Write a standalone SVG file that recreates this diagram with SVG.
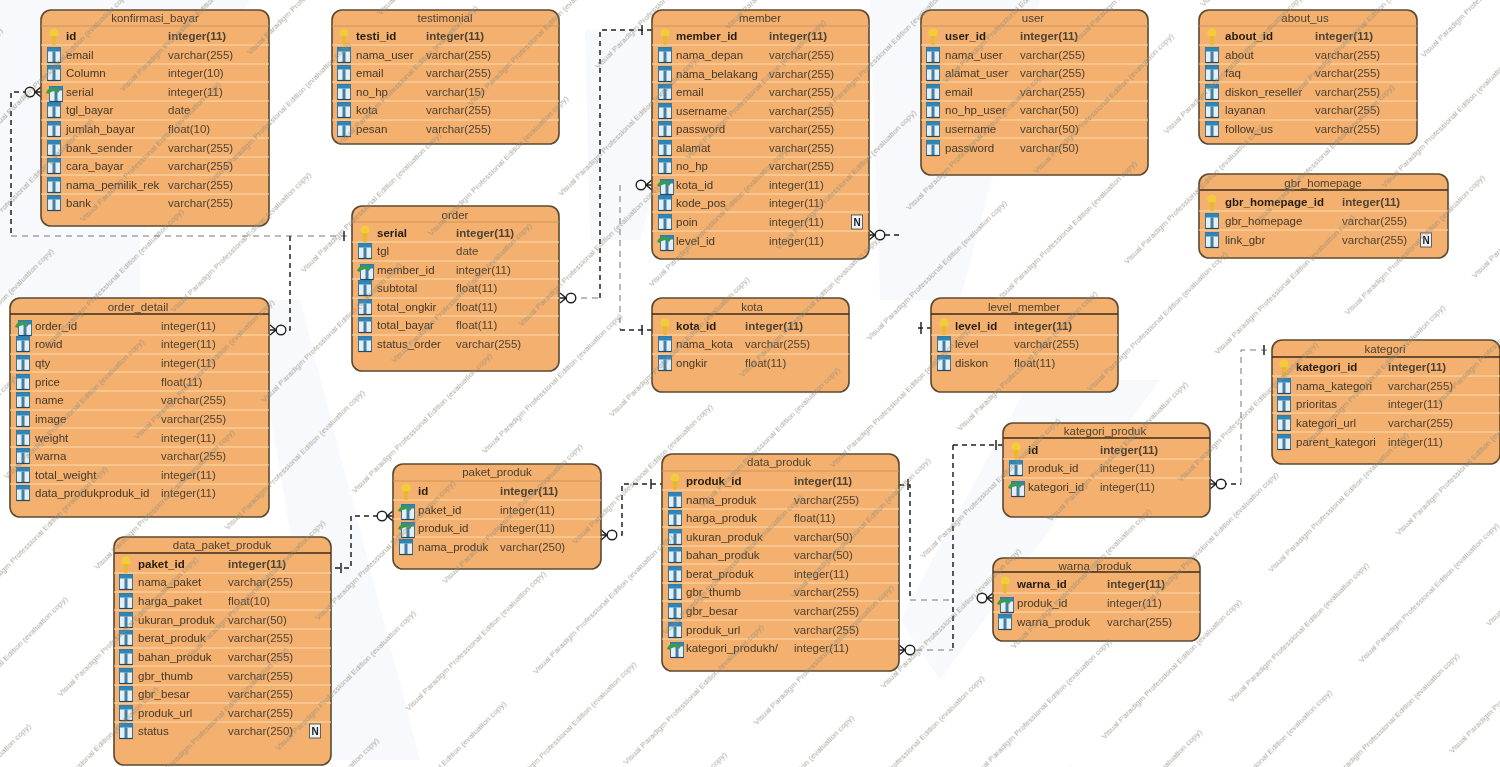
<svg xmlns="http://www.w3.org/2000/svg" width="1500" height="767" viewBox="0 0 1500 767">
<style>
text{font-family:"Liberation Sans",Arial,sans-serif;font-size:11.5px;fill:#42382b}
.ti{text-anchor:middle;fill:#4a3f30}
.pk{font-weight:bold;fill:#251e12}
.ty{fill:#4d4335}
.box{fill:#f4b06e;stroke:#5b4930;stroke-width:1.6}
.sep{fill:none;stroke:#fbdcae;stroke-width:1}
.hd{fill:none;stroke:#3d2d18;stroke-width:1.5}
.hl{fill:none;stroke:#cf9458;stroke-width:1}
.cn{fill:none;stroke:#222;stroke-width:1.5;stroke-dasharray:5 4}
.cf{fill:none;stroke:#777;stroke-width:1;stroke-dasharray:6 5}
.end{fill:none;stroke:#222;stroke-width:1.5}
.wm{font-size:8px;fill:#8f8b7c}
</style>
<defs>
<filter id="soft" x="0" y="0" width="100%" height="100%"><feGaussianBlur stdDeviation="0.45"/></filter>
<g id="k"><circle cx="0" cy="-3" r="4.6" fill="#f3cc3a"/><path d="M-2.4 0h4.8l-1 9h-2.8z" fill="#e8b92a"/></g>
<g id="c"><rect x="-6.5" y="-7.5" width="13" height="15" fill="#e6f0f4" stroke="#3f6f92" stroke-width="1"/><rect x="-6.5" y="-7.5" width="13" height="4" fill="#2f86b8"/><rect x="-1.5" y="-3.5" width="3" height="11" fill="#3f7fa6"/><path d="M-6.5 7.5h13" stroke="#26475f" stroke-width="1.2"/></g>
<g id="f"><use href="#c" x="2" y="2"/><path d="M-8 1a8 7 0 0 1 14 -3l-2 3a5 4 0 0 0 -9 1z" fill="#3b9a4d"/></g>
<g id="n"><rect x="-5.5" y="-7" width="11" height="14" fill="#eef3f6" stroke="#444" stroke-width="0.8"/><text x="0" y="4" text-anchor="middle" style="font-size:10px;font-weight:bold;fill:#222">N</text></g>
<g id="cw"><path class="end" d="M0 -5L6 0L0 5M0 0H6"/><circle cx="11" cy="0" r="4.8" fill="#fff" stroke="#222" stroke-width="1.4"/></g>
<pattern id="wmp" width="236" height="128" patternUnits="userSpaceOnUse" patternTransform="rotate(-45) translate(20 0)">
<text class="wm" x="2" y="24">Visual Paradigm Professional Edition (evaluation copy)</text>
<text class="wm" x="118" y="88">Visual Paradigm Professional Edition (evaluation copy)</text>
<text class="wm" x="-118" y="88">Visual Paradigm Professional Edition (evaluation copy)</text>
</pattern>
</defs>
<rect width="1500" height="767" fill="#fff"/>
<g filter="url(#soft)">
<g fill="#f8f9fc">
<path d="M0 0H250L140 240V300H0z"/>
<path d="M250 300L330 760H420L300 300z"/>
<path d="M585 30H700L640 240H590z"/>
<path d="M870 0H1040L960 300H880z"/>
<path d="M1030 380L1160 380L940 680L900 620z"/>
</g>

<g id="connectors">
<path class="cn" d="M28 92H11V236"/>
<path class="cf" d="M11 236H352"/>
<path class="cn" d="M290 236V330H281"/>
<path class="cf" d="M570 298H600"/>
<path class="cn" d="M600 298V30H652"/>
<path class="cf" d="M620 185V330"/>
<path class="cn" d="M620 330H652"/>
<path class="cn" d="M885 235H901"/>
<path class="cn" d="M918 328H931"/>
<path class="cn" d="M387 516H351V568H331"/>
<path class="cn" d="M612 535H622V484H663"/>
<path class="cn" d="M899 485H910V598"/>
<path class="cf" d="M910 600H953"/>
<path class="cn" d="M953 445V650"/>
<path class="cf" d="M916 650H953"/>
<path class="cn" d="M953 445H1003"/>
<path class="cn" d="M1222 484H1241"/>
<path class="cf" d="M1241 484V350H1272"/>
<use href="#cw" transform="translate(41 92) scale(-1 1)"/>
<use href="#cw" transform="translate(270 330)"/>
<use href="#cw" transform="translate(560 298)"/>
<use href="#cw" transform="translate(652 185) scale(-1 1)"/>
<use href="#cw" transform="translate(869 235)"/>
<use href="#cw" transform="translate(393 516) scale(-1 1)"/>
<use href="#cw" transform="translate(601 535)"/>
<use href="#cw" transform="translate(899 650)"/>
<use href="#cw" transform="translate(993 598) scale(-1 1)"/>
<use href="#cw" transform="translate(1210 484)"/>
<path class="end" d="M344 231V241M642 25V35M642 325V335M921 322V334M341 563V573M651 479V489M908 479V490M996 440V450M1264 345V355"/>
</g>

<g id="konfirmasi_bayar">
<rect class="box" x="41" y="10" width="228" height="216" rx="10"/>
<path class="hl" d="M41 26H269"/>
<path class="sep" d="M41 45H269M41 64H269M41 82H269M41 101H269M41 120H269M41 138H269M41 157H269M41 175H269M41 194H269"/>
<text class="ti" x="155" y="22">konfirmasi_bayar</text>
<use href="#k" x="54" y="36"/><text class="pk" x="66" y="40">id</text><text class="ty pk" x="168" y="40">integer(11)</text>
<use href="#c" x="54" y="55"/><text x="66" y="59">email</text><text class="ty" x="168" y="59">varchar(255)</text>
<use href="#c" x="54" y="73"/><text x="66" y="77">Column</text><text class="ty" x="168" y="77">integer(10)</text>
<use href="#f" x="54" y="92"/><text x="66" y="96">serial</text><text class="ty" x="168" y="96">integer(11)</text>
<use href="#c" x="54" y="110"/><text x="66" y="114">tgl_bayar</text><text class="ty" x="168" y="114">date</text>
<use href="#c" x="54" y="129"/><text x="66" y="133">jumlah_bayar</text><text class="ty" x="168" y="133">float(10)</text>
<use href="#c" x="54" y="148"/><text x="66" y="152">bank_sender</text><text class="ty" x="168" y="152">varchar(255)</text>
<use href="#c" x="54" y="166"/><text x="66" y="170">cara_bayar</text><text class="ty" x="168" y="170">varchar(255)</text>
<use href="#c" x="54" y="185"/><text x="66" y="189">nama_pemilik_rek</text><text class="ty" x="168" y="189">varchar(255)</text>
<use href="#c" x="54" y="203"/><text x="66" y="207">bank</text><text class="ty" x="168" y="207">varchar(255)</text>
</g>

<g id="testimonial">
<rect class="box" x="332" y="10" width="227" height="134" rx="10"/>
<path class="hl" d="M332 26H559"/>
<path class="sep" d="M332 45H559M332 64H559M332 82H559M332 101H559M332 120H559"/>
<text class="ti" x="445" y="22">testimonial</text>
<use href="#k" x="344" y="36"/><text class="pk" x="356" y="40">testi_id</text><text class="ty pk" x="426" y="40">integer(11)</text>
<use href="#c" x="344" y="55"/><text x="356" y="59">nama_user</text><text class="ty" x="426" y="59">varchar(255)</text>
<use href="#c" x="344" y="73"/><text x="356" y="77">email</text><text class="ty" x="426" y="77">varchar(255)</text>
<use href="#c" x="344" y="92"/><text x="356" y="96">no_hp</text><text class="ty" x="426" y="96">varchar(15)</text>
<use href="#c" x="344" y="110"/><text x="356" y="114">kota</text><text class="ty" x="426" y="114">varchar(255)</text>
<use href="#c" x="344" y="129"/><text x="356" y="133">pesan</text><text class="ty" x="426" y="133">varchar(255)</text>
</g>

<g id="member">
<rect class="box" x="652" y="10" width="217" height="249" rx="10"/>
<path class="hl" d="M652 26H869"/>
<path class="sep" d="M652 45H869M652 64H869M652 82H869M652 101H869M652 120H869M652 138H869M652 157H869M652 175H869M652 194H869M652 212H869M652 231H869"/>
<text class="ti" x="760" y="22">member</text>
<use href="#k" x="665" y="36"/><text class="pk" x="676" y="40">member_id</text><text class="ty pk" x="769" y="40">integer(11)</text>
<use href="#c" x="665" y="55"/><text x="676" y="59">nama_depan</text><text class="ty" x="769" y="59">varchar(255)</text>
<use href="#c" x="665" y="74"/><text x="676" y="78">nama_belakang</text><text class="ty" x="769" y="78">varchar(255)</text>
<use href="#c" x="665" y="92"/><text x="676" y="96">email</text><text class="ty" x="769" y="96">varchar(255)</text>
<use href="#c" x="665" y="111"/><text x="676" y="115">username</text><text class="ty" x="769" y="115">varchar(255)</text>
<use href="#c" x="665" y="129"/><text x="676" y="133">password</text><text class="ty" x="769" y="133">varchar(255)</text>
<use href="#c" x="665" y="148"/><text x="676" y="152">alamat</text><text class="ty" x="769" y="152">varchar(255)</text>
<use href="#c" x="665" y="166"/><text x="676" y="170">no_hp</text><text class="ty" x="769" y="170">varchar(255)</text>
<use href="#f" x="665" y="185"/><text x="676" y="189">kota_id</text><text class="ty" x="769" y="189">integer(11)</text>
<use href="#c" x="665" y="203"/><text x="676" y="207">kode_pos</text><text class="ty" x="769" y="207">integer(11)</text>
<use href="#c" x="665" y="222"/><text x="676" y="226">poin</text><text class="ty" x="769" y="226">integer(11)</text>
<use href="#f" x="665" y="241"/><text x="676" y="245">level_id</text><text class="ty" x="769" y="245">integer(11)</text>
<use href="#n" x="857" y="222"/>
</g>

<g id="user">
<rect class="box" x="921" y="10" width="227" height="165" rx="10"/>
<path class="hl" d="M921 26H1148"/>
<path class="sep" d="M921 45H1148M921 64H1148M921 82H1148M921 101H1148M921 120H1148M921 138H1148"/>
<text class="ti" x="1033" y="22">user</text>
<use href="#k" x="933" y="36"/><text class="pk" x="945" y="40">user_id</text><text class="ty pk" x="1020" y="40">integer(11)</text>
<use href="#c" x="933" y="55"/><text x="945" y="59">nama_user</text><text class="ty" x="1020" y="59">varchar(255)</text>
<use href="#c" x="933" y="73"/><text x="945" y="77">alamat_user</text><text class="ty" x="1020" y="77">varchar(255)</text>
<use href="#c" x="933" y="92"/><text x="945" y="96">email</text><text class="ty" x="1020" y="96">varchar(255)</text>
<use href="#c" x="933" y="110"/><text x="945" y="114">no_hp_user</text><text class="ty" x="1020" y="114">varchar(50)</text>
<use href="#c" x="933" y="129"/><text x="945" y="133">username</text><text class="ty" x="1020" y="133">varchar(50)</text>
<use href="#c" x="933" y="148"/><text x="945" y="152">password</text><text class="ty" x="1020" y="152">varchar(50)</text>
</g>

<g id="about_us">
<rect class="box" x="1199" y="10" width="218" height="134" rx="10"/>
<path class="hl" d="M1199 26H1417"/>
<path class="sep" d="M1199 45H1417M1199 64H1417M1199 82H1417M1199 101H1417M1199 120H1417"/>
<text class="ti" x="1305" y="22">about_us</text>
<use href="#k" x="1212" y="36"/><text class="pk" x="1225" y="40">about_id</text><text class="ty pk" x="1315" y="40">integer(11)</text>
<use href="#c" x="1212" y="55"/><text x="1225" y="59">about</text><text class="ty" x="1315" y="59">varchar(255)</text>
<use href="#c" x="1212" y="73"/><text x="1225" y="77">faq</text><text class="ty" x="1315" y="77">varchar(255)</text>
<use href="#c" x="1212" y="92"/><text x="1225" y="96">diskon_reseller</text><text class="ty" x="1315" y="96">varchar(255)</text>
<use href="#c" x="1212" y="110"/><text x="1225" y="114">layanan</text><text class="ty" x="1315" y="114">varchar(255)</text>
<use href="#c" x="1212" y="129"/><text x="1225" y="133">follow_us</text><text class="ty" x="1315" y="133">varchar(255)</text>
</g>

<g id="gbr_homepage">
<rect class="box" x="1199" y="174" width="249" height="84" rx="10"/>
<path class="hd" d="M1199 190H1448"/>
<path class="sep" d="M1199 211H1448M1199 230H1448"/>
<text class="ti" x="1323" y="187">gbr_homepage</text>
<use href="#k" x="1212" y="202"/><text class="pk" x="1225" y="206">gbr_homepage_id</text><text class="ty pk" x="1342" y="206">integer(11)</text>
<use href="#c" x="1212" y="221"/><text x="1225" y="225">gbr_homepage</text><text class="ty" x="1342" y="225">varchar(255)</text>
<use href="#c" x="1212" y="240"/><text x="1225" y="244">link_gbr</text><text class="ty" x="1342" y="244">varchar(255)</text>
<use href="#n" x="1426" y="240"/>
</g>

<g id="order">
<rect class="box" x="352" y="206" width="207" height="165" rx="10"/>
<path class="hl" d="M352 222H559"/>
<path class="sep" d="M352 242H559M352 261H559M352 279H559M352 298H559M352 316H559M352 335H559"/>
<text class="ti" x="455" y="219">order</text>
<use href="#k" x="365" y="233"/><text class="pk" x="377" y="237">serial</text><text class="ty pk" x="456" y="237">integer(11)</text>
<use href="#c" x="365" y="251"/><text x="377" y="255">tgl</text><text class="ty" x="456" y="255">date</text>
<use href="#f" x="365" y="270"/><text x="377" y="274">member_id</text><text class="ty" x="456" y="274">integer(11)</text>
<use href="#c" x="365" y="288"/><text x="377" y="292">subtotal</text><text class="ty" x="456" y="292">float(11)</text>
<use href="#c" x="365" y="307"/><text x="377" y="311">total_ongkir</text><text class="ty" x="456" y="311">float(11)</text>
<use href="#c" x="365" y="325"/><text x="377" y="329">total_bayar</text><text class="ty" x="456" y="329">float(11)</text>
<use href="#c" x="365" y="344"/><text x="377" y="348">status_order</text><text class="ty" x="456" y="348">varchar(255)</text>
</g>

<g id="order_detail">
<rect class="box" x="10" y="298" width="259" height="219" rx="10"/>
<path class="hd" d="M10 314H269"/>
<path class="sep" d="M10 335H269M10 354H269M10 372H269M10 391H269M10 410H269M10 428H269M10 447H269M10 465H269M10 484H269"/>
<text class="ti" x="138" y="311">order_detail</text>
<use href="#f" x="23" y="326"/><text x="35" y="330">order_id</text><text class="ty" x="161" y="330">integer(11)</text>
<use href="#c" x="23" y="344"/><text x="35" y="348">rowid</text><text class="ty" x="161" y="348">integer(11)</text>
<use href="#c" x="23" y="363"/><text x="35" y="367">qty</text><text class="ty" x="161" y="367">integer(11)</text>
<use href="#c" x="23" y="382"/><text x="35" y="386">price</text><text class="ty" x="161" y="386">float(11)</text>
<use href="#c" x="23" y="400"/><text x="35" y="404">name</text><text class="ty" x="161" y="404">varchar(255)</text>
<use href="#c" x="23" y="419"/><text x="35" y="423">image</text><text class="ty" x="161" y="423">varchar(255)</text>
<use href="#c" x="23" y="438"/><text x="35" y="442">weight</text><text class="ty" x="161" y="442">integer(11)</text>
<use href="#c" x="23" y="456"/><text x="35" y="460">warna</text><text class="ty" x="161" y="460">varchar(255)</text>
<use href="#c" x="23" y="475"/><text x="35" y="479">total_weight</text><text class="ty" x="161" y="479">integer(11)</text>
<use href="#c" x="23" y="493"/><text x="35" y="497">data_produkproduk_id</text><text class="ty" x="161" y="497">integer(11)</text>
</g>

<g id="kota">
<rect class="box" x="652" y="298" width="197" height="94" rx="10"/>
<path class="hd" d="M652 314H849"/>
<path class="sep" d="M652 335H849M652 354H849"/>
<text class="ti" x="752" y="311">kota</text>
<use href="#k" x="665" y="326"/><text class="pk" x="676" y="330">kota_id</text><text class="ty pk" x="745" y="330">integer(11)</text>
<use href="#c" x="665" y="344"/><text x="676" y="348">nama_kota</text><text class="ty" x="745" y="348">varchar(255)</text>
<use href="#c" x="665" y="363"/><text x="676" y="367">ongkir</text><text class="ty" x="745" y="367">float(11)</text>
</g>

<g id="level_member">
<rect class="box" x="931" y="298" width="187" height="94" rx="10"/>
<path class="hd" d="M931 314H1118"/>
<path class="sep" d="M931 335H1118M931 354H1118"/>
<text class="ti" x="1024" y="311">level_member</text>
<use href="#k" x="944" y="326"/><text class="pk" x="955" y="330">level_id</text><text class="ty pk" x="1014" y="330">integer(11)</text>
<use href="#c" x="944" y="344"/><text x="955" y="348">level</text><text class="ty" x="1014" y="348">varchar(255)</text>
<use href="#c" x="944" y="363"/><text x="955" y="367">diskon</text><text class="ty" x="1014" y="367">float(11)</text>
</g>

<g id="kategori">
<rect class="box" x="1272" y="340" width="228" height="124" rx="10"/>
<path class="hd" d="M1272 357H1500"/>
<path class="sep" d="M1272 376H1500M1272 395H1500M1272 413H1500M1272 432H1500"/>
<text class="ti" x="1385" y="353">kategori</text>
<use href="#k" x="1284" y="367"/><text class="pk" x="1296" y="371">kategori_id</text><text class="ty pk" x="1388" y="371">integer(11)</text>
<use href="#c" x="1284" y="386"/><text x="1296" y="390">nama_kategori</text><text class="ty" x="1388" y="390">varchar(255)</text>
<use href="#c" x="1284" y="404"/><text x="1296" y="408">prioritas</text><text class="ty" x="1388" y="408">integer(11)</text>
<use href="#c" x="1284" y="423"/><text x="1296" y="427">kategori_url</text><text class="ty" x="1388" y="427">varchar(255)</text>
<use href="#c" x="1284" y="442"/><text x="1296" y="446">parent_kategori</text><text class="ty" x="1388" y="446">integer(11)</text>
</g>

<g id="kategori_produk">
<rect class="box" x="1003" y="423" width="207" height="94" rx="10"/>
<path class="hd" d="M1003 438H1210"/>
<path class="sep" d="M1003 459H1210M1003 478H1210"/>
<text class="ti" x="1105" y="435">kategori_produk</text>
<use href="#k" x="1016" y="450"/><text class="pk" x="1028" y="454">id</text><text class="ty pk" x="1100" y="454">integer(11)</text>
<use href="#c" x="1016" y="468"/><text x="1028" y="472">produk_id</text><text class="ty" x="1100" y="472">integer(11)</text>
<use href="#f" x="1016" y="487"/><text x="1028" y="491">kategori_id</text><text class="ty" x="1100" y="491">integer(11)</text>
</g>

<g id="warna_produk">
<rect class="box" x="993" y="558" width="207" height="83" rx="10"/>
<path class="hd" d="M993 572H1200"/>
<path class="sep" d="M993 593H1200M993 612H1200"/>
<text class="ti" x="1095" y="570">warna_produk</text>
<use href="#k" x="1005" y="584"/><text class="pk" x="1017" y="588">warna_id</text><text class="ty pk" x="1107" y="588">integer(11)</text>
<use href="#f" x="1005" y="603"/><text x="1017" y="607">produk_id</text><text class="ty" x="1107" y="607">integer(11)</text>
<use href="#c" x="1005" y="622"/><text x="1017" y="626">warna_produk</text><text class="ty" x="1107" y="626">varchar(255)</text>
</g>

<g id="paket_produk">
<rect class="box" x="393" y="464" width="208" height="105" rx="10"/>
<path class="hl" d="M393 481H601"/>
<path class="sep" d="M393 500H601M393 519H601M393 537H601"/>
<text class="ti" x="497" y="476">paket_produk</text>
<use href="#k" x="406" y="491"/><text class="pk" x="418" y="495">id</text><text class="ty pk" x="500" y="495">integer(11)</text>
<use href="#f" x="406" y="510"/><text x="418" y="514">paket_id</text><text class="ty" x="500" y="514">integer(11)</text>
<use href="#f" x="406" y="528"/><text x="418" y="532">produk_id</text><text class="ty" x="500" y="532">integer(11)</text>
<use href="#c" x="406" y="547"/><text x="418" y="551">nama_produk</text><text class="ty" x="500" y="551">varchar(250)</text>
</g>

<g id="data_produk">
<rect class="box" x="662" y="454" width="237" height="217" rx="10"/>
<path class="hl" d="M662 471H899"/>
<path class="sep" d="M662 490H899M662 509H899M662 527H899M662 546H899M662 564H899M662 583H899M662 601H899M662 620H899M662 639H899"/>
<text class="ti" x="779" y="466">data_produk</text>
<use href="#k" x="675" y="481"/><text class="pk" x="686" y="485">produk_id</text><text class="ty pk" x="794" y="485">integer(11)</text>
<use href="#c" x="675" y="500"/><text x="686" y="504">nama_produk</text><text class="ty" x="794" y="504">varchar(255)</text>
<use href="#c" x="675" y="518"/><text x="686" y="522">harga_produk</text><text class="ty" x="794" y="522">float(11)</text>
<use href="#c" x="675" y="537"/><text x="686" y="541">ukuran_produk</text><text class="ty" x="794" y="541">varchar(50)</text>
<use href="#c" x="675" y="555"/><text x="686" y="559">bahan_produk</text><text class="ty" x="794" y="559">varchar(50)</text>
<use href="#c" x="675" y="574"/><text x="686" y="578">berat_produk</text><text class="ty" x="794" y="578">integer(11)</text>
<use href="#c" x="675" y="592"/><text x="686" y="596">gbr_thumb</text><text class="ty" x="794" y="596">varchar(255)</text>
<use href="#c" x="675" y="611"/><text x="686" y="615">gbr_besar</text><text class="ty" x="794" y="615">varchar(255)</text>
<use href="#c" x="675" y="630"/><text x="686" y="634">produk_url</text><text class="ty" x="794" y="634">varchar(255)</text>
<use href="#f" x="675" y="648"/><text x="686" y="652">kategori_produkh/</text><text class="ty" x="794" y="652">integer(11)</text>
</g>

<g id="data_paket_produk">
<rect class="box" x="114" y="537" width="217" height="228" rx="10"/>
<path class="hd" d="M114 553H331"/>
<path class="sep" d="M114 573H331M114 592H331M114 610H331M114 629H331M114 648H331M114 666H331M114 685H331M114 703H331M114 722H331"/>
<text class="ti" x="222" y="549">data_paket_produk</text>
<use href="#k" x="126" y="564"/><text class="pk" x="138" y="568">paket_id</text><text class="ty pk" x="228" y="568">integer(11)</text>
<use href="#c" x="126" y="582"/><text x="138" y="586">nama_paket</text><text class="ty" x="228" y="586">varchar(255)</text>
<use href="#c" x="126" y="601"/><text x="138" y="605">harga_paket</text><text class="ty" x="228" y="605">float(10)</text>
<use href="#c" x="126" y="620"/><text x="138" y="624">ukuran_produk</text><text class="ty" x="228" y="624">varchar(50)</text>
<use href="#c" x="126" y="638"/><text x="138" y="642">berat_produk</text><text class="ty" x="228" y="642">varchar(255)</text>
<use href="#c" x="126" y="657"/><text x="138" y="661">bahan_produk</text><text class="ty" x="228" y="661">varchar(255)</text>
<use href="#c" x="126" y="676"/><text x="138" y="680">gbr_thumb</text><text class="ty" x="228" y="680">varchar(255)</text>
<use href="#c" x="126" y="694"/><text x="138" y="698">gbr_besar</text><text class="ty" x="228" y="698">varchar(255)</text>
<use href="#c" x="126" y="713"/><text x="138" y="717">produk_url</text><text class="ty" x="228" y="717">varchar(255)</text>
<use href="#c" x="126" y="731"/><text x="138" y="735">status</text><text class="ty" x="228" y="735">varchar(250)</text>
<use href="#n" x="315" y="731"/>
</g>
<rect id="watermark" width="1500" height="767" fill="url(#wmp)" opacity="0.75"/>
</g>
</svg>
